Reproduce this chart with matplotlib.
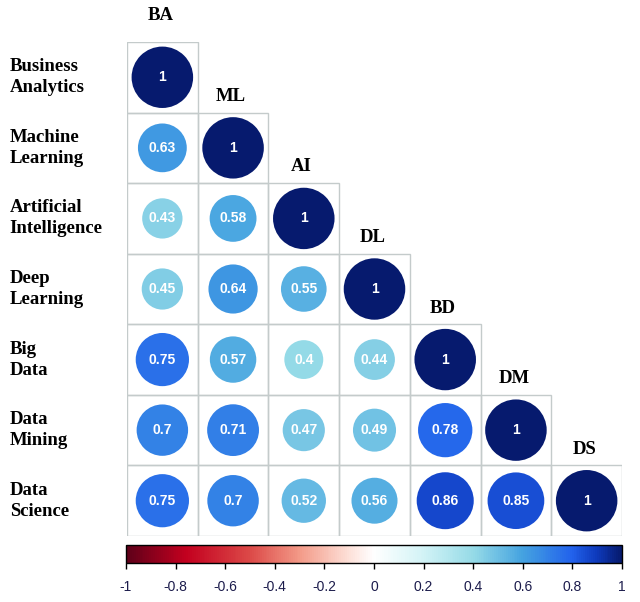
"""Correlation plot (lower triangle, circles) of analytics topics."""

import matplotlib

matplotlib.use("Agg")
import matplotlib.pyplot as plt
import numpy as np
from matplotlib.colors import LinearSegmentedColormap, Normalize
from matplotlib.colorbar import ColorbarBase
from matplotlib.patches import Circle, Rectangle

row_labels = [
    "Business\nAnalytics",
    "Machine\nLearning",
    "Artificial\nIntelligence",
    "Deep\nLearning",
    "Big\nData",
    "Data\nMining",
    "Data\nScience",
]
col_labels = ["BA", "ML", "AI", "DL", "BD", "DM", "DS"]

# lower triangle of the correlation matrix, row by row
corr_rows = [
    [1],
    [0.63, 1],
    [0.43, 0.58, 1],
    [0.45, 0.64, 0.55, 1],
    [0.75, 0.57, 0.4, 0.44, 1],
    [0.7, 0.71, 0.47, 0.49, 0.78, 1],
    [0.75, 0.7, 0.52, 0.56, 0.86, 0.85, 1],
]

cbar_ticks = [-1, -0.8, -0.6, -0.4, -0.2, 0, 0.2, 0.4, 0.6, 0.8, 1]

stops = [
    (0.00, "#5e0019"),
    (0.12, "#c3001f"),
    (0.25, "#dc4a48"),
    (0.35, "#f39a88"),
    (0.45, "#fde1d9"),
    (0.50, "#ffffff"),
    (0.60, "#d2f3f6"),
    (0.70, "#96dbe7"),
    (0.80, "#45a3e0"),
    (0.90, "#2262ec"),
    (0.95, "#0e3abc"),
    (1.00, "#061a6e"),
]
cmap = LinearSegmentedColormap.from_list("corr", stops)
norm = Normalize(-1, 1)

W, H = 640, 602
fig = plt.figure(figsize=(W / 100, H / 100), dpi=100)

ax = fig.add_axes([127 / W, 1 - 536 / H, 495 / W, 494 / H])
ax.set_xlim(0, 7)
ax.set_ylim(7, 0)
ax.axis("off")

label_font = dict(family="Liberation Serif", weight="bold", size=13.5)

for i, row in enumerate(corr_rows):
    for j, r in enumerate(row):
        ax.add_patch(
            Rectangle((j, i), 1, 1, facecolor="none", edgecolor="#c4cbcb", lw=1)
        )
        ax.add_patch(
            Circle(
                (j + 0.5, i + 0.5),
                0.435 * np.sqrt(abs(r)),
                facecolor=cmap(norm(r)),
                edgecolor="none",
            )
        )
        ax.text(
            j + 0.5,
            i + 0.5,
            f"{r:g}",
            ha="center",
            va="center",
            color="white",
            family="Liberation Sans",
            weight="bold",
            fontsize=10,
        )
    # column label sits just above the diagonal cell (first one sits higher)
    lift = 0.38 if i == 0 else 0.23
    ax.text(
        i + 0.47,
        i - lift,
        col_labels[i],
        ha="center",
        va="center",
        clip_on=False,
        **label_font,
    )
    ax.text(
        -1.66,
        i + 0.5,
        row_labels[i],
        ha="left",
        va="center",
        linespacing=1.3,
        clip_on=False,
        **label_font,
    )

cax = fig.add_axes([126 / W, 1 - 563 / H, 496 / W, 18 / H])
cb = ColorbarBase(cax, cmap=cmap, norm=norm, orientation="horizontal", ticks=cbar_ticks)
cb.outline.set_linewidth(1)
cb.outline.set_edgecolor("black")
cb.set_ticklabels([f"{t:g}" for t in cbar_ticks])
cax.tick_params(length=4, width=1, pad=8, colors="black", labelcolor="#1c1c4c")
for lbl in cax.get_xticklabels():
    lbl.set_family("Liberation Sans")
    lbl.set_fontsize(10)

fig.savefig("out.png", dpi=100, facecolor="white")
